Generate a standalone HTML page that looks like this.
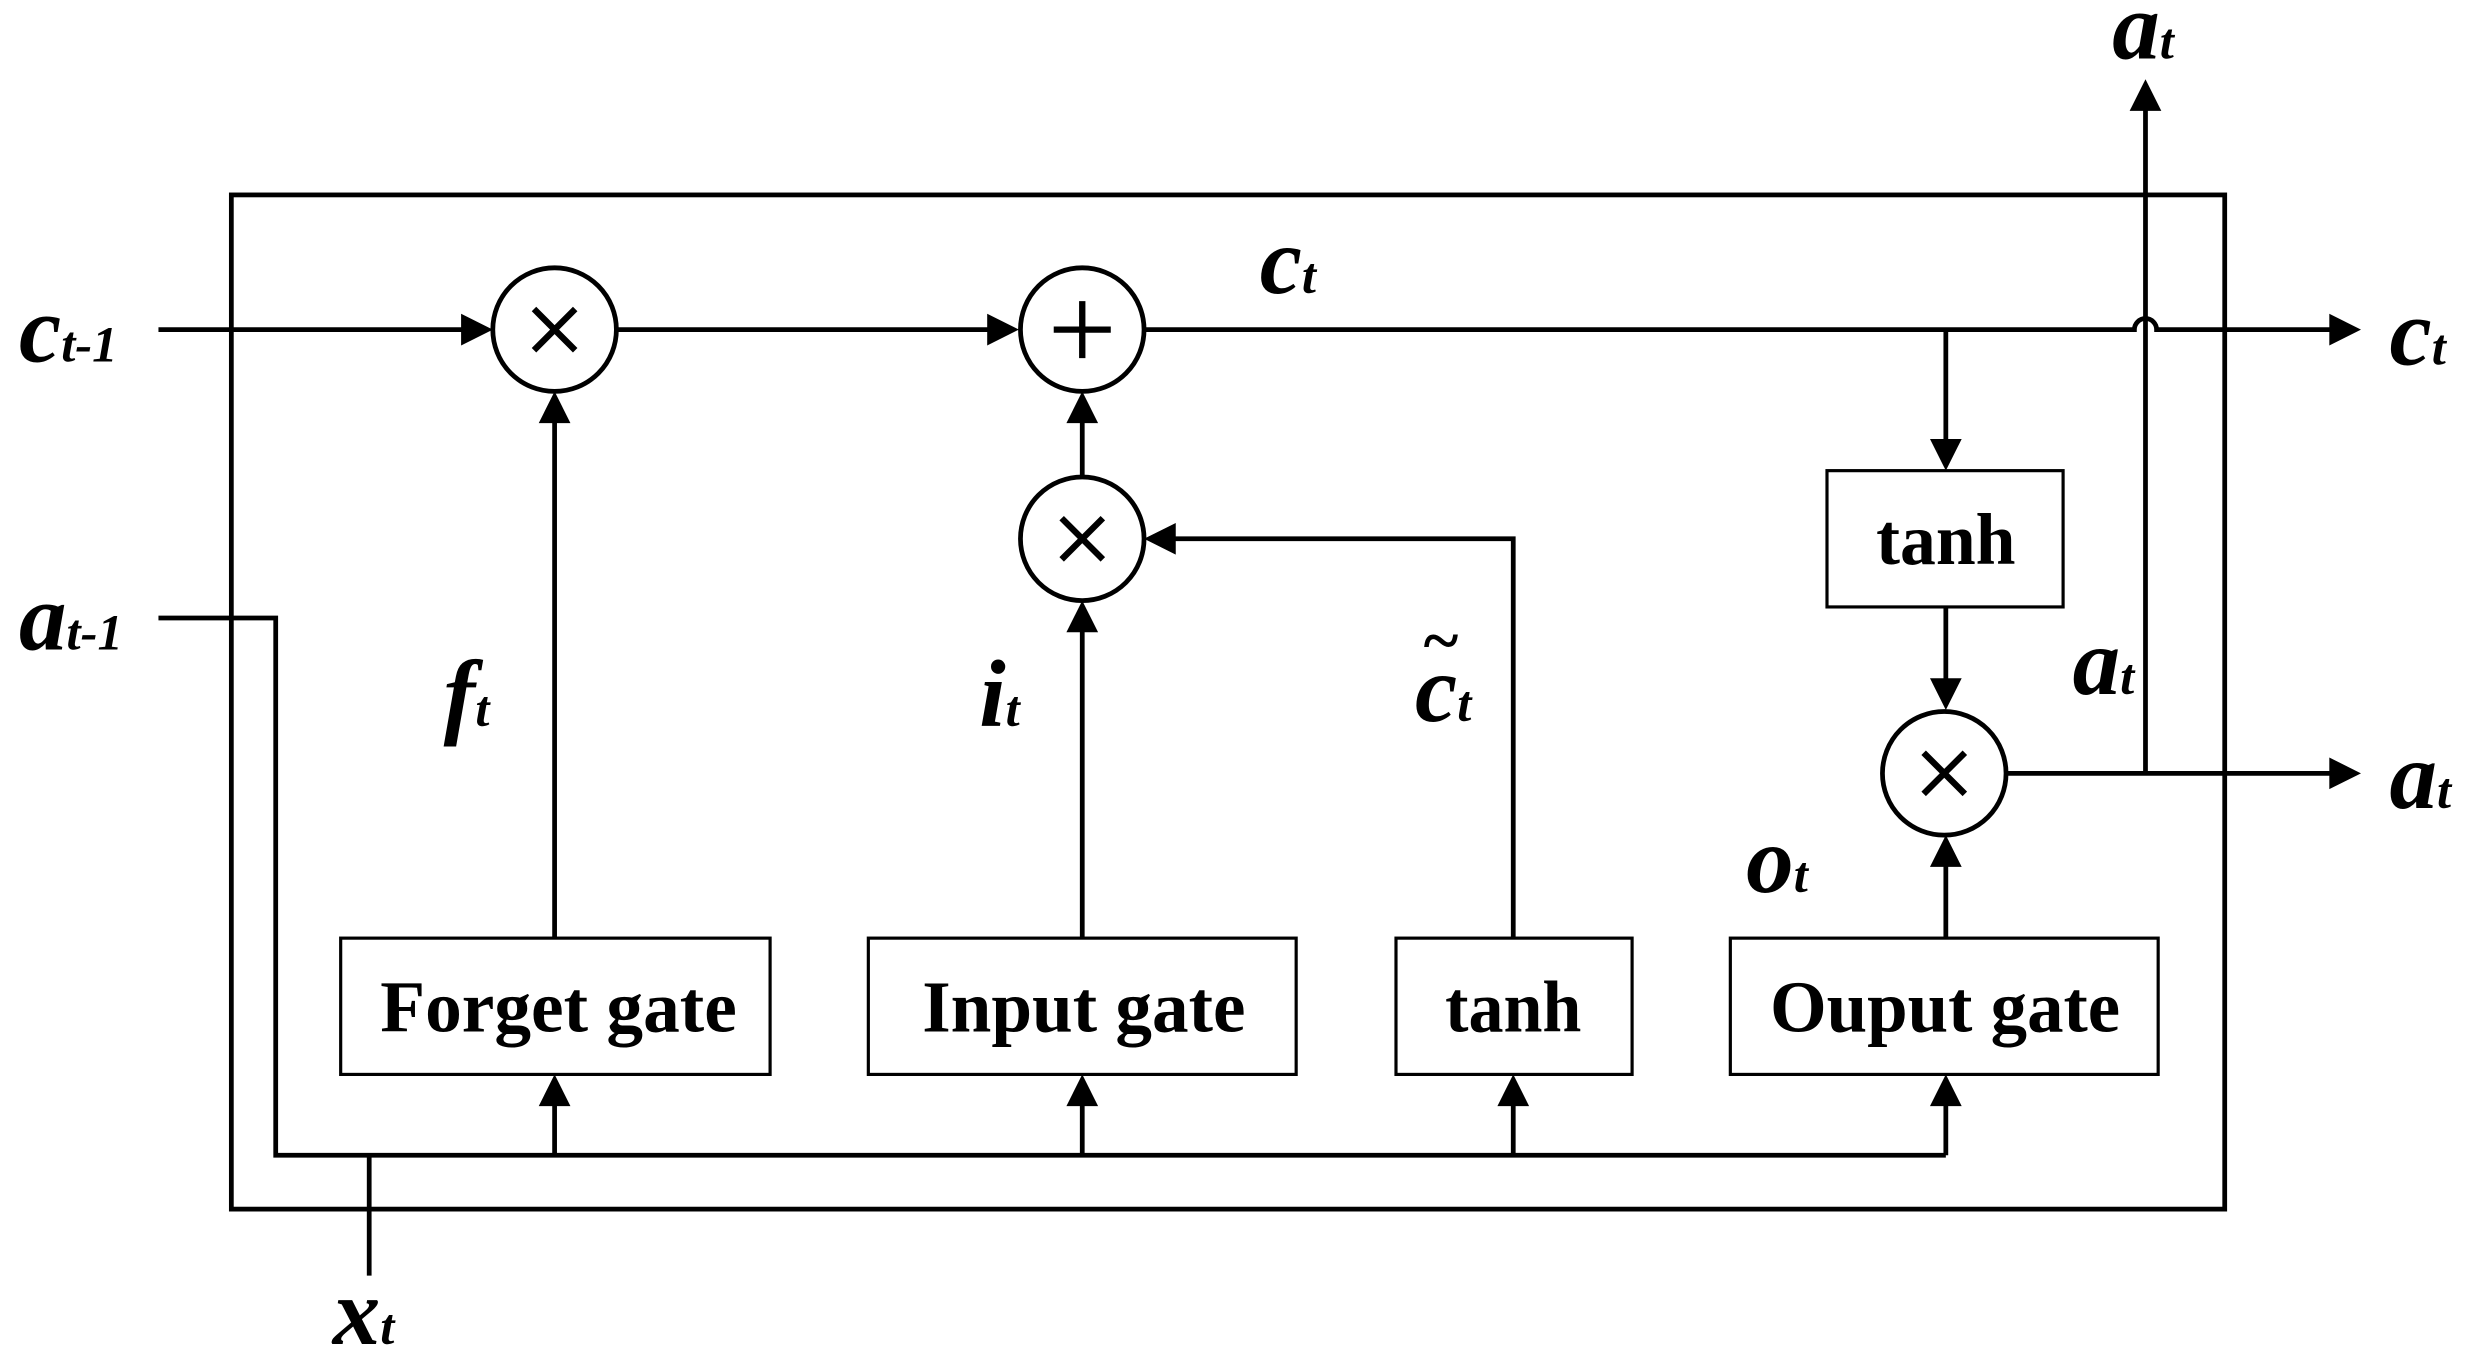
<!DOCTYPE html>
<html><head><meta charset="utf-8"><style>
html,body{margin:0;padding:0;background:#fff;}
svg{display:block;}
.l{font-family:"Liberation Serif",serif;font-weight:bold;font-style:italic;}
.b{font-family:"Liberation Serif",serif;font-weight:bold;}
</style></head><body>
<svg width="2483" height="1366" viewBox="0 0 1567 862" preserveAspectRatio="none" xmlns="http://www.w3.org/2000/svg">
<g fill="none" stroke="#000" stroke-width="3">
<rect x="146" y="123" width="1258" height="640"/>
<circle cx="350" cy="208" r="39" fill="#fff"/>
<circle cx="683" cy="208" r="39" fill="#fff"/>
<circle cx="683" cy="340" r="39" fill="#fff"/>
<circle cx="1227" cy="488" r="39" fill="#fff"/>
<rect x="215" y="592" width="271" height="86" stroke-width="2"/>
<rect x="548" y="592" width="270" height="86" stroke-width="2"/>
<rect x="881" y="592" width="149" height="86" stroke-width="2"/>
<rect x="1092" y="592" width="270" height="86" stroke-width="2"/>
<rect x="1153" y="297" width="149" height="86" stroke-width="2"/>
<line x1="100" y1="208" x2="295" y2="208"/>
<line x1="389" y1="208" x2="628" y2="208"/>
<path d="M722 208 H1347 A7 7 0 0 1 1361 208 H1475"/>
<line x1="1228" y1="208" x2="1228" y2="282"/>
<line x1="1228" y1="383" x2="1228" y2="433"/>
<line x1="1266" y1="488" x2="1475" y2="488"/>
<line x1="1354" y1="488" x2="1354" y2="65"/>
<line x1="683" y1="301" x2="683" y2="262"/>
<path d="M955 592 V340 H737"/>
<line x1="350" y1="592" x2="350" y2="262"/>
<line x1="683" y1="592" x2="683" y2="394"/>
<line x1="1228" y1="592" x2="1228" y2="542"/>
<path d="M100 390 H174 V729 H1228"/>
<line x1="233" y1="729" x2="233" y2="805"/>
<line x1="350" y1="729" x2="350" y2="693"/>
<line x1="683" y1="729" x2="683" y2="693"/>
<line x1="955" y1="729" x2="955" y2="693"/>
<line x1="1228" y1="729" x2="1228" y2="693"/>
<g stroke-width="4">
<path d="M337 195 L363 221 M363 195 L337 221"/>
<path d="M670 327 L696 353 M696 327 L670 353"/>
<path d="M1214 475 L1240 501 M1240 475 L1214 501"/>
<path d="M683 190 V226 M665 208 H701"/>
</g>
</g>
<g fill="#000">
<polygon points="311,208 291,198 291,218"/>
<polygon points="643,208 623,198 623,218"/>
<polygon points="1490,208 1470,198 1470,218"/>
<polygon points="1490,488 1470,478 1470,498"/>
<polygon points="1228,297 1218,277 1238,277"/>
<polygon points="1228,448 1218,428 1238,428"/>
<polygon points="1354,50 1344,70 1364,70"/>
<polygon points="683,247 673,267 693,267"/>
<polygon points="722,340 742,330 742,350"/>
<polygon points="350,247 340,267 360,267"/>
<polygon points="683,379 673,399 693,399"/>
<polygon points="1228,527 1218,547 1238,547"/>
<polygon points="350,678 340,698 360,698"/>
<polygon points="683,678 673,698 693,698"/>
<polygon points="955,678 945,698 965,698"/>
<polygon points="1228,678 1218,698 1238,698"/>
</g>
<g class="b" font-size="46">
<text x="240" y="651" textLength="225" lengthAdjust="spacingAndGlyphs">Forget gate</text>
<text x="582" y="651" textLength="204" lengthAdjust="spacingAndGlyphs">Input gate</text>
<text x="912" y="651" textLength="86" lengthAdjust="spacingAndGlyphs">tanh</text>
<text x="1117" y="651" textLength="221" lengthAdjust="spacingAndGlyphs">Ouput gate</text>
<text x="1184" y="356" textLength="88" lengthAdjust="spacingAndGlyphs">tanh</text>
</g>
<g class="l" font-size="60">
<text x="12" y="228">c<tspan font-size="32">t-1</tspan></text>
<text x="12" y="410">a<tspan font-size="32">t-1</tspan></text>
<text x="795" y="185">c<tspan font-size="32">t</tspan></text>
<text x="1508" y="230">c<tspan font-size="32">t</tspan></text>
<text x="1508" y="510">a<tspan font-size="32">t</tspan></text>
<text x="1333" y="37">a<tspan font-size="32">t</tspan></text>
<text x="1308" y="438">a<tspan font-size="32">t</tspan></text>
<text x="280" y="458">f<tspan font-size="32">t</tspan></text>
<text x="618" y="458">i<tspan font-size="32">t</tspan></text>
<text x="893" y="455">c<tspan font-size="32">t</tspan></text>
<text x="897" y="418" font-size="42">~</text>
<text x="1102" y="563">o<tspan font-size="32">t</tspan></text>
<text x="210" y="848">x<tspan font-size="32">t</tspan></text>
</g>
</svg>
</body></html>
